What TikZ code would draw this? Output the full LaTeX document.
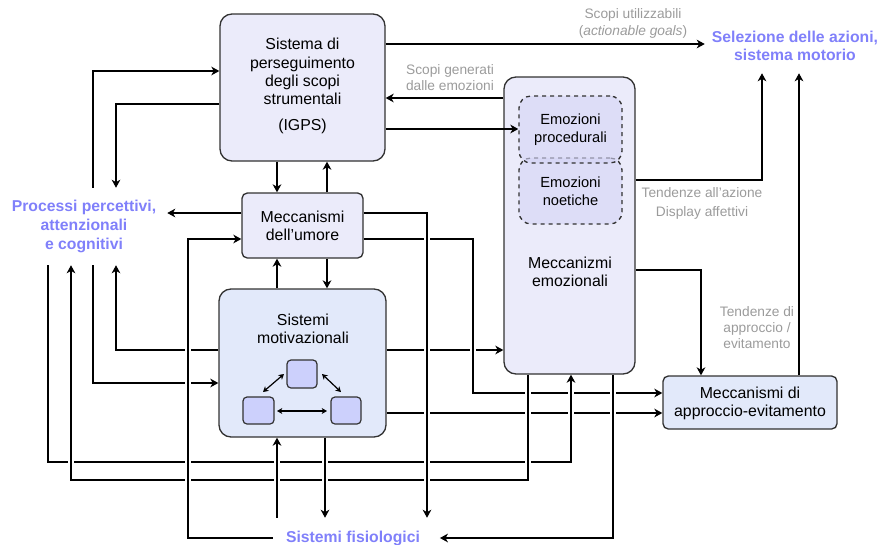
\documentclass[tikz,border=0pt]{standalone}
\usepackage{fontspec}
\setmainfont{Liberation Sans}
\usetikzlibrary{arrows.meta,fit}
\definecolor{lav}{RGB}{235,235,250}
\definecolor{lblue}{RGB}{226,233,250}
\definecolor{sqc}{RGB}{204,208,252}
\definecolor{dashc}{RGB}{212,212,245}
\definecolor{vio}{RGB}{128,128,250}
\definecolor{gtxt}{RGB}{155,155,155}
\definecolor{bord}{RGB}{50,50,50}
\newcommand\mainfs{\fontsize{11.9}{13.7}\selectfont}
\newcommand\bluefs{\fontsize{11.8}{14}\selectfont\bfseries}
\newcommand\greyfs{\fontsize{10.3}{12.3}\selectfont}
\begin{document}
\begin{tikzpicture}[x=0.75pt,y=-0.75pt,
  box/.style={draw=bord, line width=1pt, inner sep=0pt, align=center, font=\mainfs, text=black},
  bigbox/.style={box, rounded corners=9pt},
  smallbox/.style={box, rounded corners=4pt},
  dashbox/.style={box, dashed, rounded corners=9pt, fill=dashc, fill opacity=0.6, text opacity=1},
  sq/.style={draw=bord, line width=0.9pt, fill=sqc, rounded corners=3pt, inner sep=0pt},
  txt/.style={inner sep=0pt, align=center, font=\mainfs},
  lbl/.style={inner sep=0pt, align=center, font=\bluefs, text=vio},
  grey/.style={inner sep=0pt, align=center, font=\greyfs, text=gtxt},
  conn/.style={draw=black, line width=1pt, -{Stealth[length=6pt,width=6.5pt,inset=1.8pt]}},
  plain/.style={draw=black, line width=1pt},
  halo/.style={preaction={draw=white, line width=4pt, shorten <=3pt, shorten >=3pt}},
  dbl/.style={draw=black, line width=0.9pt, {Stealth[length=4pt,width=4.5pt,inset=1.2pt]}-{Stealth[length=4pt,width=4.5pt,inset=1.2pt]}}
]
\useasboundingbox (0,0) rectangle (882,544);

% ---------- boxes ----------
\node[bigbox, fill=lav, fit={(220,14) (385,161)}] (igps) {};
\node[txt] at (302.5,86) {Sistema di\\perseguimento\\degli scopi\\strumentali\\[5.5pt](IGPS)};
\node[smallbox, fill=lav, fit={(242,193) (363,258)}] (umore) {};
\node[txt] at (302.5,226) {Meccanismi\\dell’umore};
\node[bigbox, fill=lblue, fit={(219,289) (386,437)}] (motiv) {};
\node[txt] (motivtxt) at (303,328.5) {Sistemi\\motivazionali};
\node[sq, fit={(287,360) (317,388)}] (sqa) {};
\node[sq, fit={(243,397) (274,424)}] (sqb) {};
\node[sq, fit={(331,397) (361,424)}] (sqc) {};
\node[bigbox, fill=lav, fit={(504,77) (635,374)}] (emo) {};
\node[txt] (emotxt) at (570,272) {Meccanizmi\\emozionali};
\node[dashbox, fit={(519,158) (622,224)}] (noet) {};
\node[dashbox, fit={(519,96) (622,163)}] (proc) {};
\node[txt, font=\fontsize{11}{13.3}\selectfont] (proctxt) at (570.5,129.5) {Emozioni\\procedurali};
\node[txt, font=\fontsize{11}{13.3}\selectfont] (noettxt) at (570.5,191.5) {Emozioni\\noetiche};
\node[smallbox, fill=lblue, fit={(663,376) (837,429)}] (appr) {};
\node[txt] at (750,403.5) {Meccanismi di\\approccio-evitamento};

% ---------- labels ----------
\node[lbl, minimum width=124.5pt, minimum height=57.75pt] (perc) at (84,226.5) {Processi percettivi,\\attenzionali\\e cognitivi};
\node[lbl, minimum width=135pt, minimum height=40.5pt] (sel) at (795,46) {Selezione delle azioni,\\sistema motorio};
\node[lbl, minimum width=120pt, minimum height=30pt] (fis) at (353,538) {Sistemi fisiologici};

\node[grey] (g1) at (633,23.5) {Scopi utilizzabili\\(\textit{actionable goals})};
\node[grey] (g2) at (450,77.5) {Scopi generati\\dalle emozioni};
\node[grey] (g3) at (702,203.5) {Tendenze all’azione\\[1.5pt]Display affettivi};
\node[grey] (g4) at (757,327.5) {Tendenze di\\approccio /\\evitamento};

% ---------- connectors (first group) ----------
\draw[conn] (igps.east |- 0,44) -- (sel.west |- 0,44);
\draw[conn] (emo.west |- 0,98) -- (igps.east |- 0,98);
\draw[conn] (igps.east |- 0,129) -- (proc.west |- 0,129);
\draw[conn] (emo.east |- 0,180) -| (sel.south -| 762,0);
\draw[conn] (appr.north -| 799,0) -- (sel.south -| 799,0);
\draw[conn] (emo.east |- 0,270) -| (appr.north -| 701,0);
\draw[conn] (igps.south -| 277,0) -- (umore.north -| 277,0);
\draw[conn] (umore.north -| 327,0) -- (igps.south -| 327,0);
\draw[conn] (igps.west |- 0,104) -| (perc.north -| 116,0);
\draw[conn] (perc.north -| 93,0) |- (igps.west |- 0,71);
\draw[conn] (umore.west |- 0,213) -- (perc.east |- 0,213);
\draw[conn] (umore.south -| 327,0) -- (motiv.north -| 327,0);
\draw[conn] (motiv.north -| 277,0) -- (umore.south -| 277,0);
\draw[conn] (motiv.west |- 0,350) -| (perc.south -| 116,0);
\draw[conn] (perc.south -| 93,0) |- (motiv.west |- 0,383);
\draw[conn] (motiv.east |- 0,350) -- (emo.west |- 0,350);
\draw[conn] (motiv.east |- 0,413) -- (appr.west |- 0,413);

% ---------- connectors with crossing gaps ----------
\draw[conn, halo] (umore.east |- 0,239) -| (473,393) -- (appr.west |- 0,393);
\draw[conn, halo] (perc.south -| 48,0) |- (571,462) -- (emo.south -| 571,0);
\draw[conn, halo] (emo.south -| 528,0) |- (71,480) -- (perc.south -| 71,0);
\draw[conn, halo] (umore.east |- 0,213) -| (fis.north -| 427,0);
\draw[conn, halo] (fis.west) -| (188,239) -- (umore.west |- 0,239);
\draw[conn, halo] (emo.south -| 613,0) |- ([xshift=5pt]fis.east);
\draw[conn, halo] (fis.north -| 277,0) -- (motiv.south -| 277,0);
\draw[conn, halo] (motiv.south -| 325,0) -- (fis.north -| 325,0);

% ---------- inner arrows ----------
\draw[dbl] (263,392) -- (284,374);
\draw[dbl] (322,374) -- (341,392);
\draw[dbl] (277,411) -- (327,411);
\end{tikzpicture}
\end{document}
